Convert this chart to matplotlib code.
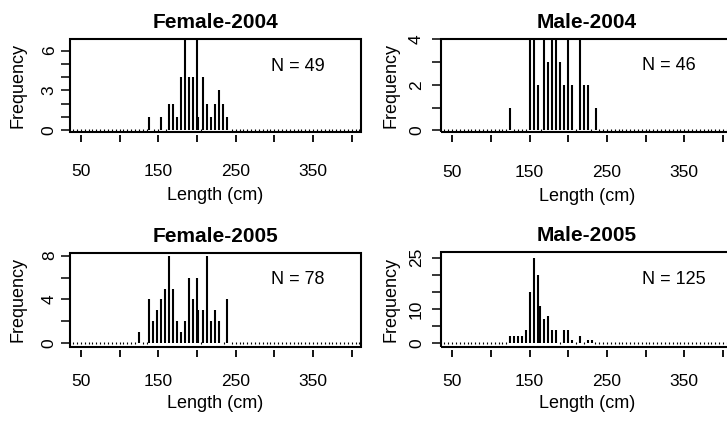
import numpy as np
import matplotlib
matplotlib.use('Agg')
import matplotlib.pyplot as plt
from matplotlib.patches import Rectangle

plt.rcParams['font.family'] = ['Liberation Sans', 'DejaVu Sans']

# length classes (cm) shown as empty dots on the baseline
bins = np.arange(40, 411, 5)

titles = ['Female-2004', 'Male-2004', 'Female-2005', 'Male-2005']
n_fish = [49, 46, 78, 125]

f04_len = [138, 153.5, 164, 169, 174, 179, 184.5, 190, 195, 200, 202, 208, 213, 218, 223, 228, 233.5, 239]
f04_cnt = [1, 1, 2, 2, 1, 4, 7, 4, 4, 7, 1, 4, 2, 1, 2, 3, 2, 1]

m04_len = [125, 151, 156, 161, 169, 174, 179, 184, 190, 195, 200, 205, 215.5, 221, 226, 236]
m04_cnt = [1, 4, 4, 2, 4, 3, 4, 4, 3, 2, 4, 2, 4, 2, 2, 1]

f05_len = [125, 138, 143, 148, 153.5, 158.5, 164, 169, 174, 179, 184.5, 190, 195, 200, 202, 208, 213, 218, 223, 228, 239]
f05_cnt = [1, 4, 2, 3, 4, 5, 8, 5, 2, 1, 2, 6, 4, 6, 3, 3, 8, 2, 3, 2, 4]

m05_len = [125, 130, 135.5, 140.5, 145.5, 151, 156, 161, 164, 169, 174, 179, 184.5, 195, 200, 205, 215.5, 226, 231]
m05_cnt = [2, 2, 2, 2, 4, 15, 25, 20, 11, 7, 8, 4, 4, 4, 4, 1, 2, 1, 1]

lengths = [f04_len, m04_len, f05_len, m05_len]
counts = [f04_cnt, m04_cnt, f05_cnt, m05_cnt]

yticks = [[0, 1, 2, 3, 4, 5, 6], [0, 1, 2, 3, 4], [0, 2, 4, 6, 8], [0, 5, 10, 15, 20, 25]]
ylabeled = [[0, 3, 6], [0, 2, 4], [0, 4, 8], [0, 10, 25]]
ylims = [(-0.13, 6.86), (-0.07, 4.01), (-0.31, 8.27), (-1.08, 26.6)]

xticks = [50, 100, 150, 200, 250, 300, 350, 400]
xlabeled = [50, 150, 250, 350]

# axes boxes in figure fraction (right column runs off the page like the original)
boxes = [[0.0963, 0.6872, 0.4003, 0.2195],
         [0.6070, 0.6865, 0.4003, 0.2209],
         [0.0963, 0.1765, 0.4003, 0.2233],
         [0.6070, 0.1758, 0.4003, 0.2249]]

fig = plt.figure(figsize=(7.27, 4.21), dpi=100)

for i in range(4):
    ax = fig.add_axes(boxes[i])
    x = np.array(lengths[i], dtype=float)
    y = np.array(counts[i], dtype=float)
    top_row = i < 2

    # empty length classes
    empty = [b for b in bins if np.min(np.abs(x - b)) > 2.4]
    ax.plot(empty, np.zeros(len(empty)), ls='none', marker='|', ms=2.0, mew=0.8, color='black')
    ax.vlines(x, 0, y, colors='black', lw=1.5, capstyle='butt')

    ax.set_xlim(36, 412)
    ax.set_ylim(*ylims[i])

    for s in ax.spines.values():
        s.set_visible(False)
    ax.spines['bottom'].set_position(('outward', 2.5))
    ax.add_patch(Rectangle((0, 0), 1, 1, transform=ax.transAxes, fill=False,
                           lw=1.5, color='black', clip_on=False, zorder=5))

    ax.set_xticks(xticks)
    ax.set_xticklabels([str(t) if t in xlabeled else '' for t in xticks], fontsize=12.5)
    ax.set_yticks(yticks[i])
    ax.set_yticklabels([str(t) if t in ylabeled[i] else '' for t in yticks[i]],
                       fontsize=12.5, rotation=90, va='center')
    ax.tick_params(axis='x', length=5, width=1.3, pad=16 if top_row else 12)
    ax.tick_params(axis='y', length=6.5, width=1.1, pad=3 if i % 2 == 0 else 6)

    ax.set_xlabel('Length (cm)', fontsize=13)
    ax.xaxis.set_label_coords(0.5, -0.69 if top_row else -0.6)
    ax.xaxis.label.set_va('center')
    ax.set_ylabel('Frequency', fontsize=13)
    ax.yaxis.set_label_coords(-0.179 if i % 2 == 0 else -0.172, 0.5)
    ax.yaxis.label.set_va('center')

    ax.set_title(titles[i], fontsize=15, fontweight='bold', pad=8)
    ax.text(0.69, 0.71, 'N = %d' % n_fish[i], transform=ax.transAxes,
            fontsize=13, ha='left', va='center')

fig.savefig('out.png', dpi=100)
